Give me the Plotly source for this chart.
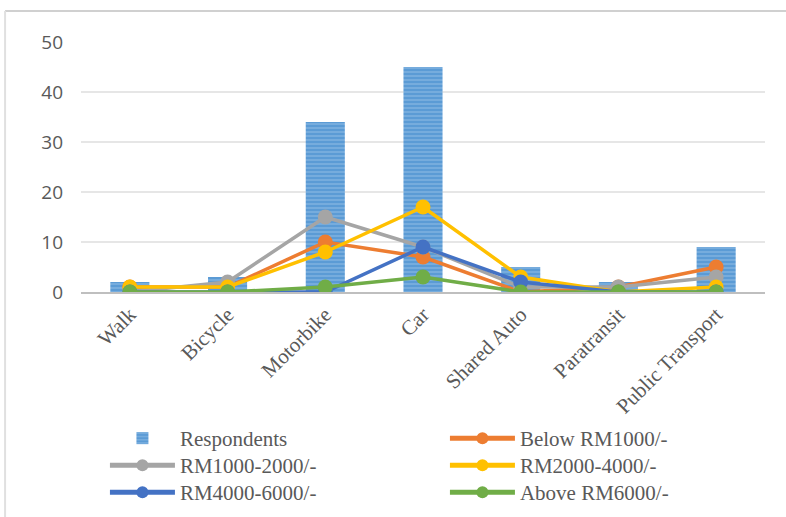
import plotly.graph_objects as go

# Travel modes on the category axis
modes = ["Walk", "Bicycle", "Motorbike", "Car", "Shared Auto", "Paratransit", "Public Transport"]

# Total respondents per mode
respondents = [2, 3, 34, 45, 5, 2, 9]

# Respondents per mode, split by monthly income group
below_1000 = [1, 1, 10, 7, 0, 1, 5]
rm1000_2000 = [0, 2, 15, 9, 1, 1, 3]
rm2000_4000 = [1, 1, 8, 17, 3, 0, 1]
rm4000_6000 = [0, 0, 0, 9, 2, 0, 0]
above_6000 = [0, 0, 1, 3, 0, 0, 0]

y_ticks = [0, 10, 20, 30, 40, 50]

# (name, values, colour, legend row)
income_series = [
    ("Below RM1000/-", below_1000, "#ED7D31", "legend"),
    ("RM1000-2000/-", rm1000_2000, "#A5A5A5", "legend2"),
    ("RM2000-4000/-", rm2000_4000, "#FFC000", "legend2"),
    ("RM4000-6000/-", rm4000_6000, "#4472C4", "legend3"),
    ("Above RM6000/-", above_6000, "#70AD47", "legend3"),
]

fig = go.Figure()

fig.add_trace(go.Bar(
    x=modes, y=respondents, name="Respondents", width=0.4, legend="legend",
    marker=dict(
        color="#5B9BD5",
        line=dict(width=0),
        pattern=dict(shape="-", fgcolor="#A9CBEA", size=4, solidity=0.35),
    ),
))

for name, vals, col, leg in income_series:
    fig.add_trace(go.Scatter(
        x=modes, y=vals, name=name, mode="lines+markers", legend=leg,
        line=dict(color=col, width=3.5),
        marker=dict(color=col, size=15),
    ))

# Light chart frame along the top and left edges
fig.add_shape(type="line", xref="paper", yref="paper",
              x0=-0.111, y0=1.124, x1=1.05, y1=1.124,
              line=dict(color="#D0D0D0", width=2))
fig.add_shape(type="line", xref="paper", yref="paper",
              x0=-0.111, y0=1.124, x1=-0.111, y1=-0.95,
              line=dict(color="#E0E0E0", width=2))


def legend_row(y):
    return dict(
        orientation="h", x=0.035, y=y, xanchor="left", yanchor="top",
        entrywidth=260, entrywidthmode="pixels", itemwidth=65,
        itemsizing="constant", bgcolor="rgba(0,0,0,0)",
        font=dict(family="Liberation Serif", size=21, color="#595959"),
        tracegroupgap=0, traceorder="normal",
    )


fig.update_layout(
    width=786, height=517,
    margin=dict(l=81, r=21, t=42, b=225, autoexpand=False),
    paper_bgcolor="white", plot_bgcolor="white",
    bargap=0.6,
    showlegend=True,
    legend=legend_row(-0.504),
    legend2=legend_row(-0.612),
    legend3=legend_row(-0.72),
    xaxis=dict(
        type="category", tickangle=-45,
        tickfont=dict(family="Liberation Serif", size=21, color="#595959"),
        showline=True, linecolor="#BFBFBF", linewidth=2,
        showgrid=False, ticks="", range=[-0.5, 6.5],
    ),
    yaxis=dict(
        range=[0, 50], tickvals=y_ticks,
        tickfont=dict(family="Open Sans", size=19, color="#595959"),
        showgrid=True, gridcolor="#E6E6E6", gridwidth=1.5,
        zeroline=False, ticks="", ticklabelstandoff=17,
    ),
)

fig.write_html("out.html")
